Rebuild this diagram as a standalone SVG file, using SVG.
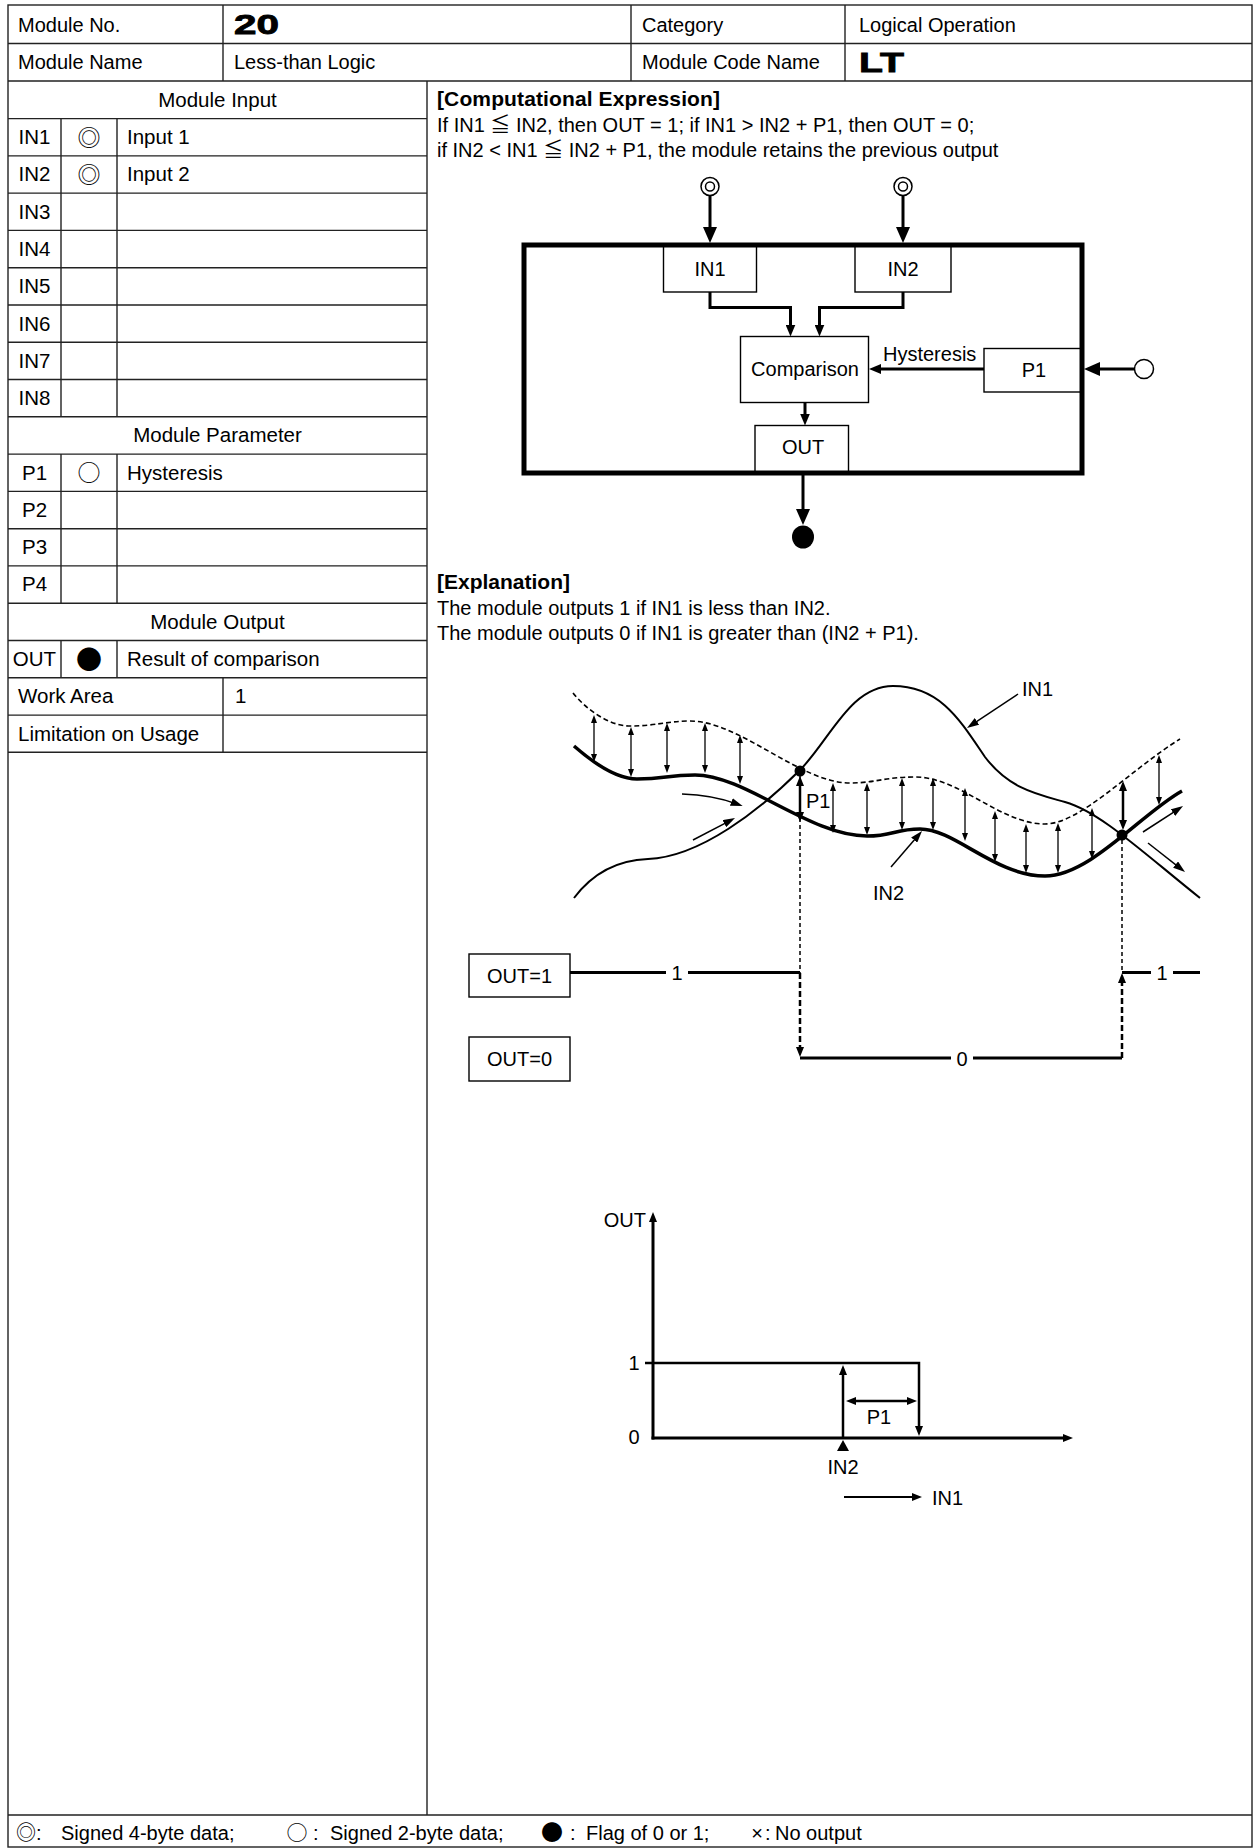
<svg xmlns="http://www.w3.org/2000/svg" width="1254" height="1848" viewBox="0 0 1254 1848">
<style>
.t{font-family:"Liberation Sans",Arial,"Noto Sans CJK JP",sans-serif;font-size:20px;fill:#000}
.tt{font-size:20.5px}
.tb{font-weight:bold;font-size:21px}
.big{font-weight:900;font-size:27px;stroke:#000;stroke-width:0.8}
.sym{font-family:"Noto Sans CJK JP","DejaVu Sans",sans-serif;fill:#000}
.grid{stroke:#222;stroke-width:1.4;fill:none}
.box{fill:#fff;stroke:#000;stroke-width:1.4}
.ln{fill:none;stroke:#000}
.conn{fill:none;stroke:#000;stroke-width:3}
.dbl{fill:none;stroke:#000;stroke-width:1.3;marker-start:url(#as);marker-end:url(#as)}
</style>
<defs>
<marker id="ab" viewBox="0 0 16 14" refX="8" refY="7" markerWidth="16" markerHeight="14" markerUnits="userSpaceOnUse" orient="auto"><path d="M0,0L16,7L0,14z"/></marker>
<marker id="am" viewBox="0 0 12 10" refX="6" refY="5" markerWidth="12" markerHeight="10" markerUnits="userSpaceOnUse" orient="auto"><path d="M0,0L12,5L0,10z"/></marker>
<marker id="ap" viewBox="0 0 10 8" refX="5" refY="4" markerWidth="10" markerHeight="8" markerUnits="userSpaceOnUse" orient="auto-start-reverse"><path d="M0,0L10,4L0,8z"/></marker>
<marker id="as" viewBox="0 0 8 6" refX="4" refY="3" markerWidth="8" markerHeight="6" markerUnits="userSpaceOnUse" orient="auto-start-reverse"><path d="M0,0L8,3L0,6z"/></marker>
<marker id="al" viewBox="0 0 12 8" refX="6" refY="4" markerWidth="12" markerHeight="8" markerUnits="userSpaceOnUse" orient="auto"><path d="M0,0L12,4L0,8z"/></marker>
</defs>
<rect width="1254" height="1848" fill="#fff"/>

<!-- Header -->
<g id="header">
<rect class="grid" x="8" y="5" width="1244" height="1842" stroke-width="1.6"/>
<path class="grid" d="M8,43.5H1252M8,81H1252M223,5V81M631,5V81M845,5V81"/>
<text class="t" x="18" y="31.5">Module No.</text>
<text class="t big" x="234" y="34" textLength="45" lengthAdjust="spacingAndGlyphs">20</text>
<text class="t" x="642" y="31.5">Category</text>
<text class="t" x="859" y="31.5">Logical Operation</text>
<text class="t" x="18" y="69">Module Name</text>
<text class="t" x="234" y="69">Less-than Logic</text>
<text class="t" x="642" y="69">Module Code Name</text>
<text class="t big" x="859" y="72" textLength="45" lengthAdjust="spacingAndGlyphs">LT</text>
</g>

<!-- Left table -->
<g id="table">
<path class="grid" d="M427,81V1815M8,1815H1252
M8,118.6H427M8,155.9H427M8,193.1H427M8,230.4H427M8,267.7H427M8,305H427M8,342.3H427M8,379.5H427M8,416.8H427M8,454.1H427M8,491.4H427M8,528.7H427M8,565.9H427M8,603.2H427M8,640.5H427M8,677.8H427M8,715.1H427M8,752.3H427
M61,118.6V416.8M117,118.6V416.8M61,454.1V603.2M117,454.1V603.2M61,640.5V677.8M117,640.5V677.8M223,677.8V752.3"/>
<text class="t tt" x="217.5" y="106.8" text-anchor="middle">Module Input</text>
<g text-anchor="middle">
<text class="t tt" x="34.5" y="144.1">IN1</text>
<text class="t tt" x="34.5" y="181.4">IN2</text>
<text class="t tt" x="34.5" y="218.6">IN3</text>
<text class="t tt" x="34.5" y="255.9">IN4</text>
<text class="t tt" x="34.5" y="293.2">IN5</text>
<text class="t tt" x="34.5" y="330.5">IN6</text>
<text class="t tt" x="34.5" y="367.8">IN7</text>
<text class="t tt" x="34.5" y="405">IN8</text>
<text class="t tt" x="34.5" y="479.6">P1</text>
<text class="t tt" x="34.5" y="516.9">P2</text>
<text class="t tt" x="34.5" y="554.2">P3</text>
<text class="t tt" x="34.5" y="591.4">P4</text>
<text class="t tt" x="34.5" y="666">OUT</text>
<text class="sym" x="89" y="145.5" font-size="23">◎</text>
<text class="sym" x="89" y="182.8" font-size="23">◎</text>
<text class="sym" x="89" y="481" font-size="23">○</text>
<text class="sym" x="89" y="668.5" font-size="26">●</text>
</g>
<text class="t tt" x="127" y="144.1">Input 1</text>
<text class="t tt" x="127" y="181.4">Input 2</text>
<text class="t tt" x="217.5" y="442.3" text-anchor="middle">Module Parameter</text>
<text class="t tt" x="127" y="479.6">Hysteresis</text>
<text class="t tt" x="217.5" y="628.7" text-anchor="middle">Module Output</text>
<text class="t tt" x="127" y="666">Result of comparison</text>
<text class="t tt" x="18" y="703.3">Work Area</text>
<text class="t tt" x="235" y="703.3">1</text>
<text class="t tt" x="18" y="740.6">Limitation on Usage</text>
</g>

<!-- Computational expression -->
<g id="expression">
<text class="t tb" x="437" y="106" textLength="283" lengthAdjust="spacing">[Computational Expression]</text>
<text class="t" x="437" y="132">If IN1 ≦ IN2, then OUT = 1; if IN1 &gt; IN2 + P1, then OUT = 0;</text>
<text class="t" x="437" y="157">if IN2 &lt; IN1 ≦ IN2 + P1, the module retains the previous output</text>
</g>

<!-- Block diagram nodes -->
<g id="box-in1"><rect class="box" x="663.5" y="245" width="93" height="47"/><text class="t" x="710" y="275.5" text-anchor="middle">IN1</text></g>
<g id="box-in2"><rect class="box" x="855" y="245" width="96" height="47"/><text class="t" x="903" y="275.5" text-anchor="middle">IN2</text></g>
<g id="box-cmp"><rect class="box" x="740.5" y="336.5" width="128" height="66"/><text class="t" x="805" y="376" text-anchor="middle">Comparison</text></g>
<g id="box-p1"><rect class="box" x="984" y="348.5" width="98" height="43.5"/><text class="t" x="1034" y="377" text-anchor="middle">P1</text></g>
<g id="box-out"><rect class="box" x="755" y="425.5" width="93.5" height="47"/><text class="t" x="803" y="453.5" text-anchor="middle">OUT</text></g>
<g id="module-frame"><rect x="524" y="245" width="558" height="228" fill="none" stroke="#000" stroke-width="5"/></g>
<g id="src-in1"><circle cx="710" cy="186.5" r="9" fill="#fff" stroke="#000" stroke-width="1.5"/><circle cx="710" cy="186.5" r="4.5" fill="none" stroke="#000" stroke-width="1.5"/></g>
<g id="src-in2"><circle cx="903" cy="186.5" r="9" fill="#fff" stroke="#000" stroke-width="1.5"/><circle cx="903" cy="186.5" r="4.5" fill="none" stroke="#000" stroke-width="1.5"/></g>
<g id="src-p1"><circle cx="1144" cy="369" r="9.5" fill="#fff" stroke="#000" stroke-width="1.5"/></g>
<g id="dst-out"><ellipse cx="803" cy="537" rx="11" ry="11.5" fill="#000"/></g>

<!-- Block diagram connectors -->
<g id="connectors">
<path class="conn" stroke-width="3.5" d="M710,195.5V235" marker-end="url(#ab)"/>
<path class="conn" stroke-width="3.5" d="M903,195.5V235" marker-end="url(#ab)"/>
<path class="conn" d="M710,292V307.5H790.5V330.5" marker-end="url(#am)"/>
<path class="conn" d="M903,292V307.5H819.5V330.5" marker-end="url(#am)"/>
<path class="conn" d="M984,369H875" marker-end="url(#am)"/>
<path class="conn" stroke-width="4" d="M1134.5,369H1092" marker-end="url(#ab)"/>
<path class="conn" d="M805,402.5V419.5" marker-end="url(#am)"/>
<path class="conn" stroke-width="3.5" d="M803,473V517" marker-end="url(#ab)"/>
<text class="t" x="883" y="361">Hysteresis</text>
</g>

<!-- Explanation -->
<g id="explanation">
<text class="t tb" x="437" y="589">[Explanation]</text>
<text class="t" x="437" y="615">The module outputs 1 if IN1 is less than IN2.</text>
<text class="t" x="437" y="640">The module outputs 0 if IN1 is greater than (IN2 + P1).</text>
</g>

<!-- Waveform -->
<g id="waveform">
<path class="ln" stroke-width="1.6" stroke-dasharray="5 3" d="M573,693 C585,708 608,726 630,726 C655,726 668,721 690,721 C740,721 800,783 850,783 C875,783 885,777 915,777 C960,777 1000,824 1045,824 C1080,824 1130,770 1180,739"/>
<path class="ln" stroke-width="3.5" d="M574,746 C590,760 615,779 637,779 C666,779 666,775 695,775 C745,775 810,836 867,836 C893,836 895,829 920,829 C955,829 995,876 1045,876 C1090,876 1142,813 1182,791"/>
<path class="ln" stroke-width="2" d="M574,898 C595,870 620,860 648,859 C700,857 760,810 800,770 C830,740 850,686 893,686 C940,686 960,720 985,757 C1010,790 1040,795 1065,802 C1100,812 1140,850 1200,898"/>
<path class="dbl" d="M594,719V758"/>
<path class="dbl" d="M631,731V773"/>
<path class="dbl" d="M667,727V769"/>
<path class="dbl" d="M705,727V769"/>
<path class="dbl" d="M740,739V780"/>
<path class="dbl" d="M833,787V829"/>
<path class="dbl" d="M867,787V831"/>
<path class="dbl" d="M902,782V826"/>
<path class="dbl" d="M933,782V826"/>
<path class="dbl" d="M965,792V837"/>
<path class="dbl" d="M995,815V858"/>
<path class="dbl" d="M1026,828V869"/>
<path class="dbl" d="M1058,827V869"/>
<path class="dbl" d="M1092,812V855"/>
<path class="dbl" d="M1159,759V801"/>
<path class="ln" stroke-width="2.5" d="M800,781V817" marker-start="url(#ap)" marker-end="url(#ap)"/>
<path class="ln" stroke-width="2.5" d="M1123,786V825" marker-start="url(#ap)" marker-end="url(#ap)"/>
<circle cx="800" cy="771" r="5.5"/>
<circle cx="1122" cy="835" r="5.5"/>
<text class="t" x="806" y="808">P1</text>
<path class="ln" stroke-width="1.5" d="M682,794 Q713,795 737,804" marker-end="url(#al)"/>
<path class="ln" stroke-width="1.5" d="M693,840 L729.7,820.8" marker-end="url(#al)"/>
<path class="ln" stroke-width="1.5" d="M1143,832 L1178,809.3" marker-end="url(#al)"/>
<path class="ln" stroke-width="1.5" d="M1148,843 L1180.3,868.3" marker-end="url(#al)"/>
<path class="ln" stroke-width="1.5" d="M1018,694 L972,724.7" marker-end="url(#al)"/>
<path class="ln" stroke-width="1.5" d="M891,867 L918.1,835.5" marker-end="url(#al)"/>
<text class="t" x="1022" y="696">IN1</text>
<text class="t" x="873" y="900">IN2</text>
<path class="ln" stroke-width="1.5" stroke-dasharray="4 3" d="M800,776V973M1122,840V973"/>
</g>

<!-- Output timing -->
<g id="timing">
<g id="box-out1"><rect class="box" x="469" y="954" width="101" height="43"/><text class="t" x="519.5" y="982.5" text-anchor="middle">OUT=1</text></g>
<g id="box-out0"><rect class="box" x="469" y="1037" width="101" height="44"/><text class="t" x="519.5" y="1066" text-anchor="middle">OUT=0</text></g>
<path class="ln" stroke-width="3" d="M570,972.5H666M688,972.5H800M800,1058H951M973,1058H1122M1122,972.5H1151M1173,972.5H1200"/>
<path class="ln" stroke-width="2.5" stroke-dasharray="6 3" d="M800,973V1052" marker-end="url(#ap)"/>
<path class="ln" stroke-width="2.5" stroke-dasharray="6 3" d="M1122,1058V978" marker-end="url(#ap)"/>
<text class="t" x="677" y="980" text-anchor="middle">1</text>
<text class="t" x="962" y="1065.5" text-anchor="middle">0</text>
<text class="t" x="1162" y="980" text-anchor="middle">1</text>
</g>

<!-- Hysteresis graph -->
<g id="graph">
<path class="ln" stroke-width="3" d="M653,1439.5V1217" marker-end="url(#ap)"/>
<path class="ln" stroke-width="3" d="M651.5,1438H1068" marker-end="url(#ap)"/>
<path class="ln" stroke-width="2.5" d="M645,1363H919V1431" marker-end="url(#ap)"/>
<path class="ln" stroke-width="2.5" d="M843,1438V1370" marker-end="url(#ap)"/>
<path class="ln" stroke-width="2.5" d="M851,1401H912" marker-start="url(#ap)" marker-end="url(#ap)"/>
<polygon points="843,1440 837,1451 849,1451"/>
<path class="ln" stroke-width="2" d="M844,1497H917" marker-end="url(#ap)"/>
<text class="t" x="646" y="1227" text-anchor="end">OUT</text>
<text class="t" x="634" y="1370" text-anchor="middle">1</text>
<text class="t" x="634" y="1444" text-anchor="middle">0</text>
<text class="t" x="879" y="1424" text-anchor="middle">P1</text>
<text class="t" x="843" y="1474" text-anchor="middle">IN2</text>
<text class="t" x="932" y="1505">IN1</text>
</g>

<!-- Legend -->
<g id="legend">
<text class="sym" x="16" y="1840" font-size="20">◎</text>
<text class="t" x="36" y="1840" font-size="21">:</text>
<text class="t" x="61" y="1840" font-size="21">Signed 4-byte data;</text>
<text class="sym" x="297" y="1840" font-size="21" text-anchor="middle">○</text>
<text class="t" x="313" y="1840" font-size="21">:</text>
<text class="t" x="330" y="1840" font-size="21">Signed 2-byte data;</text>
<text class="sym" x="552" y="1840" font-size="22" text-anchor="middle">●</text>
<text class="t" x="570" y="1840" font-size="21">:</text>
<text class="t" x="586" y="1840" font-size="21">Flag of 0 or 1;</text>
<text class="t" x="757" y="1840" font-size="21" text-anchor="middle">×</text>
<text class="t" x="765" y="1840" font-size="21">:</text>
<text class="t" x="775" y="1840" font-size="21">No output</text>
</g>
</svg>
